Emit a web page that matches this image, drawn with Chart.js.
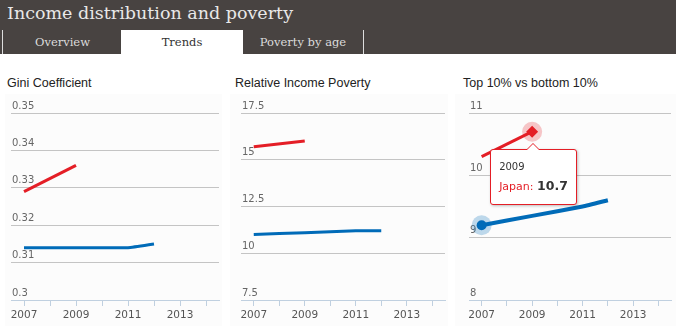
<!DOCTYPE html>
<html>
<head>
<meta charset="utf-8">
<script src="https://cdn.jsdelivr.net/npm/chart.js@4/dist/chart.umd.min.js"></script>
<style>
body { margin: 0; width: 676px; height: 326px; overflow: hidden; background: #fff; position: relative; }
#head { position: absolute; left: 0; top: 0; width: 676px; height: 54px; background: #484341; }
#head h1 { margin: 0; position: absolute; left: 7px; top: 0; font: normal 17.5px "DejaVu Serif", serif; line-height: 27px; color: #e8e8e8; white-space: nowrap; }
.tab { position: absolute; top: 30px; height: 24px; font: 11.5px "DejaVu Serif", serif; line-height: 25px; text-align: center; color: #dcdcdc; }
.tab.on { background: #fff; color: #333; }
.ctitle { position: absolute; top: 76px; font: 12.5px "Liberation Sans", Arial, sans-serif; color: #222; white-space: nowrap; }
.panel { position: absolute; top: 94px; height: 232px; background: #fcfcfc; }
#tip { position: absolute; background: #fff; border: 1px solid #e41e26; border-radius: 3px; box-shadow: 1px 1px 3px rgba(0,0,0,0.25); font-family: "DejaVu Sans", sans-serif; padding: 11px 8px 11px 8px; white-space: nowrap; width: 69px; }
#tip .t { font-size: 10px; color: #333; }
#tip .b { font-size: 11px; color: #e41e26; margin-top: 6px; }
#tip .b b { color: #333; font-size: 12.5px; }
#tip:before { content: ""; position: absolute; left: 35px; top: -7px; border: 7px solid transparent; border-top: 0; border-bottom-color: #e41e26; }
#tip:after { content: ""; position: absolute; left: 36px; top: -6px; border: 6px solid transparent; border-top: 0; border-bottom-color: #fff; }
</style>
</head>
<body>
<div id="head">
  <h1>Income distribution and poverty</h1>
  <div class="tab" style="left:2px;width:119px;border-left:1px solid #ddd;">Overview</div>
  <div class="tab on" style="left:121px;width:122px;">Trends</div>
  <div class="tab" style="left:243px;width:120px;border-right:1px solid #ddd;">Poverty by age</div>
</div>

<div class="ctitle" style="left:7px;">Gini Coefficient</div>
<div class="ctitle" style="left:235px;">Relative Income Poverty</div>
<div class="ctitle" style="left:463px;">Top 10% vs bottom 10%</div>

<div class="panel" style="left:5px;width:217px;"><canvas id="c1" width="217" height="232"></canvas></div>
<div class="panel" style="left:230px;width:218px;"><canvas id="c2" width="218" height="232"></canvas></div>
<div class="panel" style="left:455px;width:221px;"><canvas id="c3" width="221" height="232"></canvas></div>

<div id="tip"><div class="t">2009</div><div class="b">Japan: <b>10.7</b></div></div>

<script>
// years on the x axis
const years = ['2007', '2008', '2009', '2010', '2011', '2012', '2013', '2014'];

// Gini coefficient
const giniJapan = [0.329, null, 0.336, null, null, null, null, null];
const giniOecd = [0.314, null, 0.314, null, 0.314, 0.315, null, null];
const giniTicks = [0.3, 0.31, 0.32, 0.33, 0.34, 0.35];

// relative income poverty
const povJapan = [15.7, null, 16.0, null, null, null, null, null];
const povOecd = [11.0, null, 11.1, null, 11.2, 11.2, null, null];
const povTicks = [7.5, 10, 12.5, 15, 17.5];

// top 10% vs bottom 10%
const ratioJapan = [10.3, null, 10.7, null, null, null, null, null];
const ratioOecd = [9.2, null, 9.35, null, 9.5, 9.6, null, null];
const ratioTicks = [8, 9, 10, 11];

const RED = '#e41e26';
const BLUE = '#006bb8';

// hover halo drawn under the highlighted points
const haloPlugin = {
  id: 'halo',
  beforeDatasetsDraw(chart) {
    const ctx = chart.ctx;
    chart.data.datasets.forEach((ds, i) => {
      if (ds.haloIndex == null) return;
      const pt = chart.getDatasetMeta(i).data[ds.haloIndex];
      ctx.save();
      ctx.fillStyle = ds.haloColor;
      ctx.beginPath();
      ctx.arc(pt.x, pt.y, 10, 0, Math.PI * 2);
      ctx.fill();
      ctx.restore();
    });
  }
};

function makeChart(id, jp, oecd, ticks, pad, opts) {
  opts = opts || {};
  return new Chart(document.getElementById(id), {
    type: 'line',
    data: {
      labels: years,
      datasets: [
        {
          label: 'OECD',
          data: oecd,
          borderColor: BLUE,
          backgroundColor: BLUE,
          borderWidth: opts.oecdWidth || 3,
          pointRadius: c => c.dataIndex === opts.oecdActive ? 5 : 0,
          pointBorderWidth: 0,
          spanGaps: true,
          tension: 0.15,
          haloIndex: opts.oecdActive,
          haloColor: 'rgba(0,107,184,0.25)'
        },
        {
          label: 'Japan',
          data: jp,
          borderColor: RED,
          backgroundColor: RED,
          borderWidth: 3,
          pointStyle: 'rectRot',
          pointRadius: c => c.dataIndex === opts.jpActive ? 6 : 0,
          pointBorderWidth: 0,
          spanGaps: true,
          haloIndex: opts.jpActive,
          haloColor: 'rgba(228,30,38,0.25)'
        }
      ]
    },
    options: {
      responsive: false,
      animation: false,
      events: [],
      layout: { padding: { left: pad[0], right: pad[1], top: 19, bottom: 0 } },
      plugins: { legend: { display: false }, tooltip: { enabled: false } },
      scales: {
        x: {
          offset: true,
          grid: { drawOnChartArea: false, drawTicks: true, tickLength: 6, color: '#c0d0e0', offset: false },
          border: { color: '#c0d0e0' },
          ticks: {
            autoSkip: false, maxRotation: 0, padding: 3,
            color: '#555', font: { family: 'DejaVu Sans', size: 10.5 },
            callback: (v, i) => i % 2 === 0 ? years[i] : ''
          },
          afterFit: s => { s.height = 26; }
        },
        y: {
          min: ticks[0],
          max: ticks[ticks.length - 1],
          afterBuildTicks: s => { s.ticks = ticks.map(v => ({ value: v })); },
          grid: { drawTicks: false, color: c => c.index === 0 ? 'rgba(0,0,0,0)' : '#c4c4c4' },
          border: { display: false },
          ticks: {
            mirror: true, padding: 1, labelOffset: -7,
            color: '#666', font: { family: 'DejaVu Sans', size: 10 },
            callback: v => String(v)
          },
          afterFit: s => { s.width = 0; }
        }
      }
    },
    plugins: [haloPlugin]
  });
}

makeChart('c1', giniJapan, giniOecd, giniTicks, [6, 3]);
makeChart('c2', povJapan, povOecd, povTicks, [11, 3]);
const chart3 = makeChart('c3', ratioJapan, ratioOecd, ratioTicks, [14, 3],
  { oecdActive: 0, jpActive: 2, oecdWidth: 4 });

// place the tooltip under the hovered Japan point
const tip = document.getElementById('tip');
const px = 455 + chart3.scales.x.getPixelForValue(2);
const py = 94 + chart3.scales.y.getPixelForValue(ratioJapan[2]);
tip.style.left = (px - 42) + 'px';
tip.style.top = (py + 17) + 'px';
</script>
</body>
</html>
